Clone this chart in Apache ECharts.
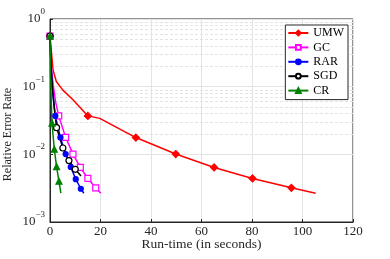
<!DOCTYPE html>
<html><head><meta charset="utf-8">
<script src="https://cdn.jsdelivr.net/npm/echarts@6/dist/echarts.min.js"></script>
<style>html,body{margin:0;padding:0;background:#fff}#c{width:390px;height:259px}</style>
</head><body><div id="c"></div>
<script>
// ---- data ----
var seriesNames = ['UMW', 'GC', 'RAR', 'SGD', 'CR'];
var umwX = [0, 1.2, 2.5, 5.1, 9.1, 15.0, 19.7, 34.0, 49.8, 65.0, 80.2, 95.6, 105.2];
var umwY = [0.56, 0.176, 0.119, 0.089, 0.064, 0.037, 0.034, 0.0177, 0.0101, 0.0064, 0.0044, 0.0032, 0.00266];
var umwMarks = [0, 5, 7, 8, 9, 10, 11];
var gcX = [0, 0.5, 1.2, 2.2, 3.45, 6.2, 9.1, 12.0, 15.0, 18.1, 20.1];
var gcY = [0.56, 0.2, 0.11, 0.06, 0.037, 0.0178, 0.0101, 0.0064, 0.0044, 0.0032, 0.00266];
var gcMarks = [0, 4, 5, 6, 7, 8, 9];
var rarX = [0, 0.4, 0.9, 1.5, 2.1, 4.1, 6.2, 8.2, 10.2, 12.2, 13.4];
var rarY = [0.56, 0.2, 0.1, 0.058, 0.037, 0.0178, 0.0101, 0.0065, 0.0043, 0.0031, 0.00266];
var rarMarks = [0, 4, 5, 6, 7, 8, 9];
var sgdX = [0, 0.4, 1.0, 1.8, 2.6, 5.1, 7.5, 10.0, 12.3];
var sgdY = [0.56, 0.2, 0.09, 0.045, 0.0248, 0.0124, 0.0081, 0.0060, 0.0048];
var sgdMarks = [0, 4, 5, 6, 7];
var crX = [0, 0.25, 0.5, 0.8, 1.7, 2.6, 3.55, 4.3];
var crY = [0.56, 0.15, 0.06, 0.029, 0.0119, 0.0066, 0.0040, 0.00268];
var crMarks = [0, 3, 4, 5, 6];
var xTicks = [0, 20, 40, 60, 80, 100, 120];
var yDecades = [0.001, 0.01, 0.1, 1];
var yDecadeExp = ['−3', '−2', '−1', '0'];

// ---- chart ----
function build(xs, ys, marks) {
  return xs.map(function (x, i) {
    var it = { value: [x, ys[i]] };
    if (marks.indexOf(i) < 0) it.symbol = 'none';
    return it;
  });
}
var minorY = [];
yDecades.slice(0, 3).forEach(function (d) {
  for (var k = 2; k <= 9; k++) minorY.push({ yAxis: +(d * k).toPrecision(3) });
});
var serif = 'Liberation Serif';
var colors = ['#ff0000', '#ff00ff', '#0000ff', '#000000', '#008000'];
var symbols = ['diamond', 'rect', 'circle', 'circle', 'triangle'];
var sizes = [7, 6, 5, 6, 6];
var fills = ['#ff0000', 'none', '#0000ff', 'none', '#008000'];
var dataSets = [
  build(umwX, umwY, umwMarks), build(gcX, gcY, gcMarks), build(rarX, rarY, rarMarks),
  build(sgdX, sgdY, sgdMarks), build(crX, crY, crMarks)
];
var series = [{
  type: 'line', data: [], silent: true, symbol: 'none', z: 0,
  markLine: {
    silent: true, symbol: 'none', label: { show: false }, z: 0,
    lineStyle: { color: '#e3e3e3', type: [3, 2], width: 1 },
    data: minorY, animation: false
  }
}];
dataSets.forEach(function (d, i) {
  series.push({
    name: seriesNames[i], type: 'line', data: d,
    symbol: symbols[i], symbolSize: sizes[i],
    showAllSymbol: true,
    lineStyle: { color: colors[i], width: 1.5 },
    itemStyle: { color: fills[i] === 'none' ? '#fff' : colors[i], borderColor: colors[i], borderWidth: 1.2, opacity: 1 },
    emphasis: { disabled: true }
  });
});
var chart = echarts.init(document.getElementById('c'), null, { renderer: 'canvas' });
chart.setOption({
  animation: false,
  backgroundColor: '#fff',
  grid: { left: 50, right: 37, top: 19, bottom: 37, outerBoundsMode: 'none', containLabel: false,
    show: true, borderColor: '#262626', borderWidth: 1 },
  legend: {
    data: seriesNames, orient: 'vertical', right: 42, top: 25, z: 20, zlevel: 1,
    itemWidth: 20, itemHeight: 6, itemGap: 2.4,
    padding: [2, 4, 3, 2],
    backgroundColor: '#fff', borderColor: '#262626', borderWidth: 1,
    textStyle: { fontFamily: serif, fontSize: 12, color: '#000' }
  },
  xAxis: {
    type: 'value', min: 0, max: 120, interval: 20,
    name: 'Run-time (in seconds)', nameLocation: 'middle', nameGap: 15, nameMoveOverlap: false,
    nameTextStyle: { fontFamily: serif, fontSize: 13.5, color: '#262626' },
    axisLine: { show: true, lineStyle: { color: '#262626' } },
    axisTick: { show: true, inside: true, length: 3, lineStyle: { color: '#262626' } },
    axisLabel: { fontFamily: serif, fontSize: 13, color: '#262626', margin: 3,
      formatter: function (v) { return xTicks.indexOf(v) >= 0 ? String(v) : ''; } },
    splitLine: { show: true, lineStyle: { color: '#e3e3e3', width: 1 } }
  },
  yAxis: {
    type: 'log', logBase: 10, min: 0.001, max: 1,
    name: 'Relative Error Rate', nameLocation: 'middle', nameGap: 36, nameMoveOverlap: false,
    nameTextStyle: { fontFamily: serif, fontSize: 12, color: '#262626', padding: [0, 28, 0, 0] },
    axisLine: { show: true, lineStyle: { color: '#262626' } },
    axisTick: { show: true, inside: true, length: 3, lineStyle: { color: '#262626' } },
    axisLabel: {
      margin: 5,
      formatter: function (v) {
        var i = yDecades.findIndex(function (d) { return Math.abs(Math.log10(d) - Math.log10(v)) < 1e-6; });
        return i < 0 ? '' : '{b|10}{s|' + yDecadeExp[i] + '}';
      },
      rich: {
        b: { fontFamily: serif, fontSize: 13, color: '#262626', lineHeight: 24, verticalAlign: 'middle' },
        s: { fontFamily: serif, fontSize: 9, color: '#262626', lineHeight: 9, verticalAlign: 'top' }
      }
    },
    splitLine: { show: true, lineStyle: { color: '#e3e3e3', width: 1 } }
  },
  series: series
});
</script></body></html>
